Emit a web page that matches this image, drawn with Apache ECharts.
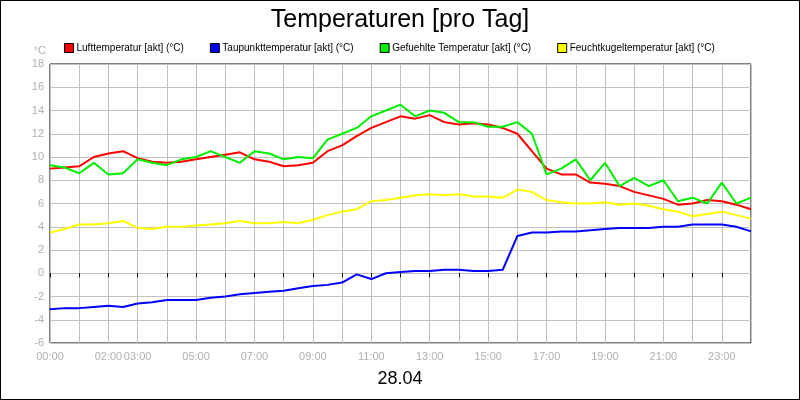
<!DOCTYPE html>
<html><head><meta charset="utf-8">
<script src="https://cdn.jsdelivr.net/npm/echarts@6/dist/echarts.min.js"></script>
<style>html,body{margin:0;padding:0;background:#fff}#c{width:798px;height:398px;border:1px solid #000}</style>
</head><body><div id="c"></div>
<script>
const hours = [];
for (let i = 0; i <= 48; i++) hours.push(i / 2);
const tickLabels = {0:'00:00',2:'02:00',3:'03:00',5:'05:00',7:'07:00',9:'09:00',11:'11:00',13:'13:00',15:'15:00',17:'17:00',19:'19:00',21:'21:00',23:'23:00'};
const luft = [9.0,9.1,9.2,10.0,10.3,10.5,9.9,9.6,9.5,9.6,9.8,10.0,10.2,10.4,9.8,9.6,9.2,9.3,9.5,10.5,11.0,11.8,12.5,13.0,13.5,13.3,13.6,13.0,12.8,12.9,12.8,12.5,12.0,10.5,9.0,8.5,8.5,7.8,7.7,7.5,7.0,6.7,6.4,5.9,6.0,6.3,6.2,5.9,5.5];
const taupunkt = [-3.1,-3.0,-3.0,-2.9,-2.8,-2.9,-2.6,-2.5,-2.3,-2.3,-2.3,-2.1,-2.0,-1.8,-1.7,-1.6,-1.5,-1.3,-1.1,-1.0,-0.8,-0.1,-0.5,0.0,0.1,0.2,0.2,0.3,0.3,0.2,0.2,0.3,3.2,3.5,3.5,3.6,3.6,3.7,3.8,3.9,3.9,3.9,4.0,4.0,4.2,4.2,4.2,4.0,3.6];
const gefuehlt = [9.3,9.1,8.6,9.5,8.5,8.6,9.8,9.5,9.3,9.8,10.0,10.5,10.0,9.5,10.5,10.3,9.8,10.0,9.9,11.5,12.0,12.5,13.5,14.0,14.5,13.5,14.0,13.8,13.0,13.0,12.6,12.6,13.0,12.0,8.5,9.0,9.8,8.0,9.5,7.5,8.2,7.5,8.0,6.2,6.5,6.0,7.8,6.0,6.5];
const feucht = [3.5,3.8,4.2,4.2,4.3,4.5,3.9,3.8,4.0,4.0,4.1,4.2,4.3,4.5,4.3,4.3,4.4,4.3,4.6,5.0,5.3,5.5,6.2,6.3,6.5,6.7,6.8,6.7,6.8,6.6,6.6,6.5,7.2,7.0,6.3,6.1,6.0,6.0,6.1,5.9,6.0,5.8,5.5,5.3,4.9,5.1,5.3,5.0,4.7];
const names = ['Lufttemperatur [akt] (°C)','Taupunkttemperatur [akt] (°C)','Gefuehlte Temperatur [akt] (°C)','Feuchtkugeltemperatur [akt] (°C)'];
const colors = ['#ff0000','#0000ff','#00ee00','#ffff00'];
const datas = [luft, taupunkt, gefuehlt, feucht];
const order = [3,2,0,1];
const series = order.map(i => ({
  name: names[i], type: 'line', showSymbol: false, smooth: false,
  data: hours.map((h, k) => [h, datas[i][k]]),
  lineStyle: {color: colors[i], width: 2}, itemStyle: {color: colors[i], borderColor:'#000', borderWidth:1},
  z: 10 - order.indexOf(i)
}));
const chart = echarts.init(document.getElementById('c'));
chart.setOption({
  animation: false,
  title: [{text: 'Temperaturen [pro Tag]', left: 'center', top: 2, textStyle: {fontSize: 25, fontWeight: 'normal', color: '#000', fontFamily: 'Liberation Sans'}},
          {text: '28.04', left: 'center', top: 364, textStyle: {fontSize: 18, fontWeight: 'normal', color: '#000', fontFamily: 'Liberation Sans'}}],
  legend: {top: 37, left: 58, itemGap: 26, itemWidth: 9, itemHeight: 9, icon: 'rect',
    data: names.map((n, i) => ({name: n, itemStyle: {color: colors[i], borderColor: '#000', borderWidth: 1}})),
    textStyle: {fontSize: 10, color: '#000', fontFamily: 'Liberation Sans', padding: [0,0,0,-2]}},
  grid: {left: 49, right: 48, top: 63, bottom: 56, show: true, borderColor: '#000', borderWidth: 1},
  xAxis: {type: 'value', min: 0, max: 24, interval: 1,
    axisLine: {show: false}, axisTick: {show: true, lineStyle: {color: '#000'}, length: 4},
    splitLine: {show: true, lineStyle: {color: '#c0c0c0', width: 1}},
    axisLabel: {color: '#b0b0b0', fontSize: 11, fontFamily: 'Liberation Sans', formatter: v => tickLabels[v] || '', showMaxLabel: false}},
  yAxis: {type: 'value', min: -6, max: 18, interval: 2, name: '°C', nameGap: 8,
    nameTextStyle: {color: '#b0b0b0', fontSize: 11, align: 'right', padding: [0,4,0,0]},
    axisLine: {show: false}, axisTick: {show: false},
    splitLine: {show: true, lineStyle: {color: '#c0c0c0', width: 1}},
    axisLabel: {color: '#b0b0b0', fontSize: 11, fontFamily: 'Liberation Sans', margin: 6}},
  series: series
});
</script></body></html>
